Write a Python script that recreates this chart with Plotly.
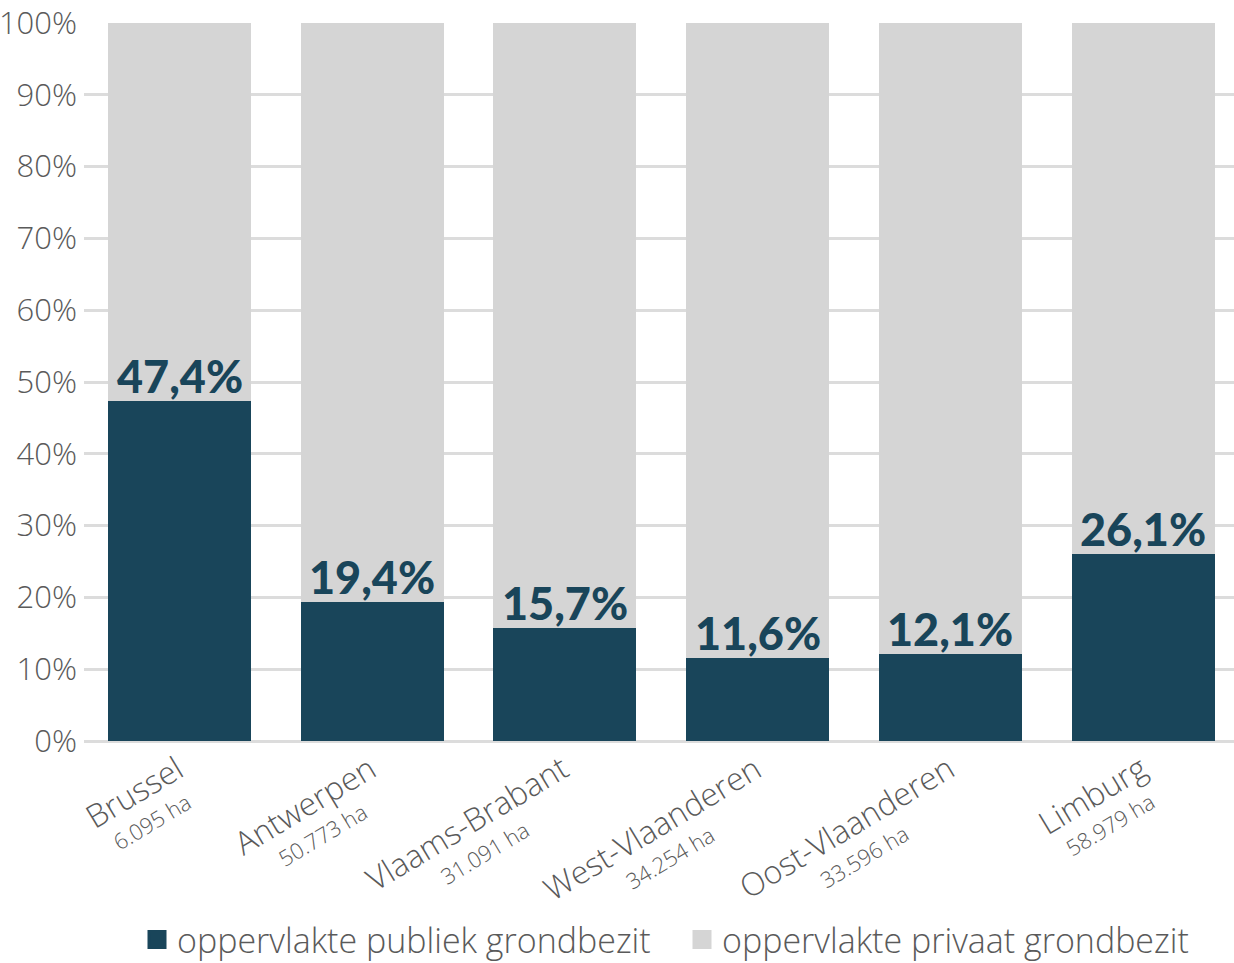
import plotly.graph_objects as go

regions = ["Brussel", "Antwerpen", "Vlaams-Brabant", "West-Vlaanderen", "Oost-Vlaanderen", "Limburg"]
areas = ["6.095 ha", "50.773 ha", "31.091 ha", "34.254 ha", "33.596 ha", "58.979 ha"]
publiek = [47.4, 19.4, 15.7, 11.6, 12.1, 26.1]
privaat = [round(100 - v, 1) for v in publiek]
value_labels = [f"{v:.1f}%".replace(".", ",") for v in publiek]
y_ticks = [0, 10, 20, 30, 40, 50, 60, 70, 80, 90, 100]
y_tick_labels = [f"{t}%" for t in y_ticks]
series_names = ["oppervlakte publiek grondbezit", "oppervlakte privaat grondbezit"]

DARK = "#19455a"
LIGHT = "#d5d5d5"
GRAY_TXT = "#5a5a5a"

xs = list(range(len(regions)))

fig = go.Figure()
fig.add_trace(go.Bar(x=xs, y=publiek, name=series_names[0], showlegend=False,
                     marker=dict(color=DARK, line=dict(width=0)), width=0.742,
                     hoverinfo="skip"))
fig.add_trace(go.Bar(x=xs, y=privaat, name=series_names[1], showlegend=False,
                     marker=dict(color=LIGHT, line=dict(width=0)), width=0.742,
                     hoverinfo="skip"))
# legend entries with larger square swatches
for nm, col in zip(series_names, [DARK, LIGHT]):
    fig.add_trace(go.Scatter(x=[None], y=[None], mode="markers", name=nm,
                             marker=dict(symbol="square", size=16, color=col,
                                         line=dict(color=col, width=3)),
                             hoverinfo="skip"))

for x, v, lab in zip(xs, publiek, value_labels):
    fig.add_annotation(x=x, y=v, text=lab, showarrow=False,
                       yanchor="bottom", xanchor="center", yshift=-4,
                       font=dict(family="Lato", size=45, color=DARK, weight=900))

# rotated category labels (second line centred under the first)
for x, r, a in zip(xs, regions, areas):
    fig.add_annotation(x=x, xref="x", y=0, yref="y",
                       text=f"<span style='font-size:32px'>{r}</span><br><span style='font-size:22px'>{a}</span>",
                       showarrow=False, textangle=-31, align="center",
                       xanchor="right", yanchor="top", xshift=28, yshift=-2,
                       font=dict(family="Open Sans", size=24, color=GRAY_TXT, weight=300))

fig.update_layout(
    width=1234, height=963,
    barmode="stack",
    bargap=0,
    plot_bgcolor="white", paper_bgcolor="white",
    margin=dict(l=84, r=0, t=23, b=222, autoexpand=False),
    font=dict(family="Open Sans", color=GRAY_TXT),
    xaxis=dict(range=[-0.496, 5.472], tickmode="array", tickvals=xs, showticklabels=False,
               showgrid=False, showline=False, zeroline=False, ticks="", automargin=False),
    yaxis=dict(range=[0, 100], tickmode="array", tickvals=y_ticks, ticktext=y_tick_labels,
               tickfont=dict(size=31, color=GRAY_TXT, weight=300), ticklabeloverflow="allow",
               showgrid=True, gridcolor="#dcdcdc", gridwidth=3,
               zeroline=True, zerolinecolor="#dcdcdc", zerolinewidth=3,
               showline=False, ticks="", ticklabelstandoff=6, automargin=False),
    legend=dict(orientation="h", x=0.52, xanchor="center", y=-0.277, yanchor="middle",
                font=dict(size=34, color=GRAY_TXT, weight=300), traceorder="normal",
                itemwidth=30, tracegroupgap=0, entrywidth=500),
    showlegend=True,
)

fig.write_html("out.html", config={"displayModeBar": False},
               post_script="document.body.style.margin='0';")
